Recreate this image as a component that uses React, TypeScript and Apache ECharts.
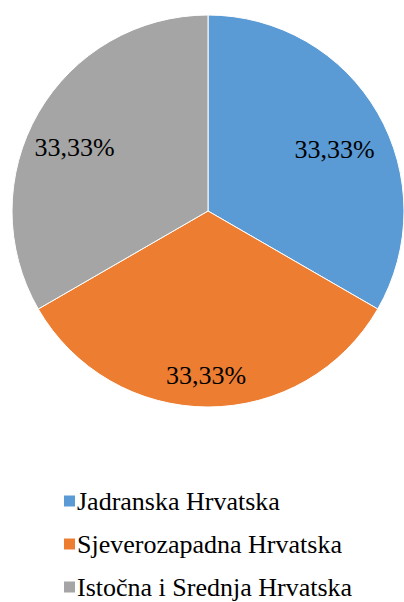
import React, { useEffect, useRef } from "react";
import * as echarts from "echarts";

const categories = ["Jadranska Hrvatska", "Sjeverozapadna Hrvatska", "Istočna i Srednja Hrvatska"];
const values = [33.33, 33.33, 33.33];
const labels = ["33,33%", "33,33%", "33,33%"];
const colors = ["#5B9BD5", "#ED7D31", "#A5A5A5"];
const labelShift = [
  [39, -11],
  [-2, 63],
  [-46, -13],
];

export default function App() {
  const ref = useRef<HTMLDivElement>(null);
  useEffect(() => {
    if (!ref.current) return;
    const chart = echarts.init(ref.current, undefined, { renderer: "svg" });
    const font = "Liberation Serif";
    chart.setOption({
      animation: false,
      backgroundColor: "#ffffff",
      color: colors,
      legend: {
        orient: "vertical",
        left: 62,
        top: 488,
        height: 200,
        padding: 0,
        icon: "rect",
        itemWidth: 13,
        itemHeight: 13,
        itemGap: 17,
        textStyle: { fontFamily: font, fontSize: 26, color: "#000", lineHeight: 26, padding: [0, 0, 0, -4] },
        data: categories,
      },
      series: [
        {
          type: "pie",
          center: [208, 211],
          radius: 196,
          startAngle: 90,
          clockwise: true,
          itemStyle: { borderColor: "#fff", borderWidth: 1 },
          label: {
            show: true,
            position: "inside",
            fontFamily: font,
            fontSize: 26,
            color: "#000",
            formatter: (p: any) => labels[p.dataIndex],
          },
          labelLine: { show: false },
          labelLayout: (p: any) => ({ dx: labelShift[p.dataIndex][0], dy: labelShift[p.dataIndex][1] }),
          emphasis: { disabled: true },
          data: categories.map((name, i) => ({ name, value: values[i] })),
        },
      ],
    });
    return () => chart.dispose();
  }, []);
  return <div ref={ref} style={{ position: "fixed", left: 0, top: 0, width: 404, height: 602 }} />;
}
